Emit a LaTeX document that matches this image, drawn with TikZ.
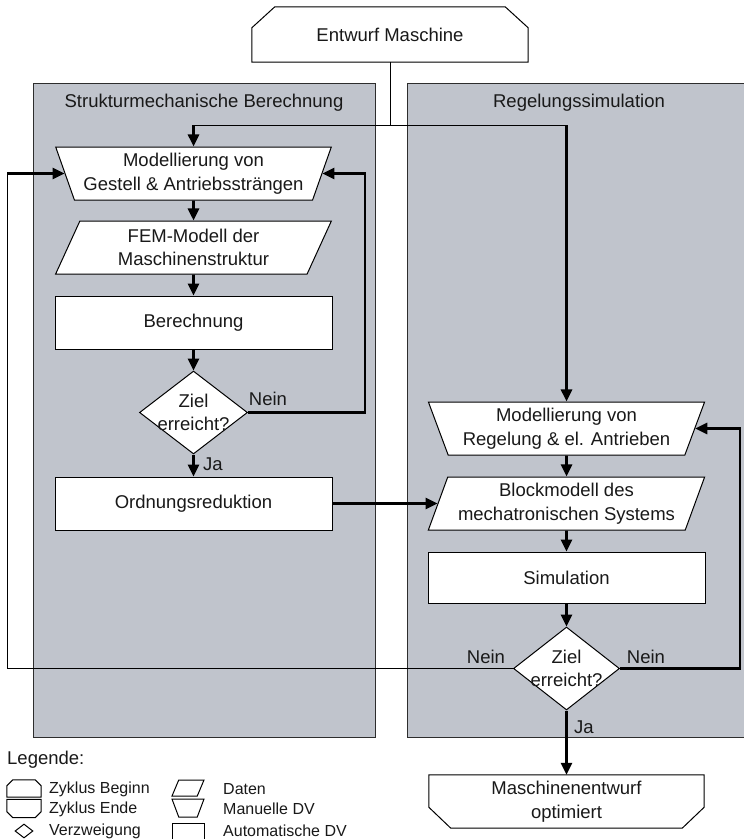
\documentclass[tikz,border=0pt]{standalone}
\usepackage{fontspec}
\setmainfont{Liberation Sans}
\usetikzlibrary{shapes.geometric,arrows.meta}
\definecolor{panelgray}{RGB}{192,196,204}
\definecolor{panelline}{RGB}{45,45,45}
\definecolor{txt}{RGB}{25,25,25}
\tikzset{
  mainfont/.style={font=\fontsize{18.5}{23.5}\selectfont, text=txt},
  legfont/.style={font=\fontsize{16}{19}\selectfont, text=txt},
  panel/.style={fill=panelgray, draw=panelline, line width=1pt},
  shapeline/.style={draw=black, fill=white, line width=1pt},
  box/.style={rectangle, shapeline, inner sep=0pt, align=center, mainfont},
  manual/.style={trapezium, shape border rotate=180, trapezium angle=67,
     trapezium stretches=true, shapeline, inner sep=0pt, align=center, mainfont},
  data/.style={trapezium, trapezium left angle=66.5, trapezium right angle=113.5,
     trapezium stretches=true, shapeline, inner sep=0pt, align=center, mainfont},
  decision/.style={diamond, shapeline, inner sep=0pt},
  termtop/.style 2 args={rectangle, inner sep=0pt, align=center,
     append after command={\pgfextra{\filldraw[line width=1pt, draw=black, fill=white]
       ([yshift=-#2]\tikzlastnode.north west) -- ([xshift=#1]\tikzlastnode.north west)
       -- ([xshift=-#1]\tikzlastnode.north east) -- ([yshift=-#2]\tikzlastnode.north east)
       -- (\tikzlastnode.south east) -- (\tikzlastnode.south west) -- cycle;}}},
  termbot/.style 2 args={rectangle, inner sep=0pt, align=center,
     append after command={\pgfextra{\filldraw[line width=1pt, draw=black, fill=white]
       (\tikzlastnode.north west) -- (\tikzlastnode.north east)
       -- ([yshift=#2]\tikzlastnode.south east) -- ([xshift=-#1]\tikzlastnode.south east)
       -- ([xshift=#1]\tikzlastnode.south west) -- ([yshift=#2]\tikzlastnode.south west)
       -- cycle;}}},
  flow/.style={line width=2.6pt, black, -{Triangle[length=12pt,width=11pt]}},
  thinline/.style={line width=1pt, black},
  lbl/.style={mainfont, inner sep=0pt},
}
\begin{document}
\begin{tikzpicture}[x=1pt, y=-1pt]
\useasboundingbox (0,0) rectangle (744,839);
% panels
\draw[panel] (33,83) rectangle (375,737);
\draw[panel] (407,83) rectangle (751,737);
\node[lbl] (t1) at (204,103) {Strukturmechanische Berechnung};
\node[lbl] (t2) at (579,103) {Regelungssimulation};

% start
\node[termtop={23pt}{21pt}, mainfont, minimum width=276pt, minimum height=55pt] (start) at (390,34.5) {Entwurf Maschine};

% left column
\node[manual, minimum width=276pt, minimum height=53pt] (m1) at (193.5,173.5) {Modellierung von\\Gestell \& Antriebssträngen};
\node[data, minimum width=276pt, minimum height=53pt] (p1) at (193.5,247.5) {FEM-Modell der\\Maschinenstruktur};
\node[box, minimum width=277pt, minimum height=53pt] (ber) at (193.5,322.5) {Berechnung};
\node[decision, minimum width=108pt, minimum height=83pt] (d1) at (193.5,412.5) {};
\node[mainfont, align=center, inner sep=0pt] (d1t) at (d1.center) {Ziel\\erreicht?};
\node[box, minimum width=277pt, minimum height=53pt] (ord) at (193.5,503.5) {Ordnungsreduktion};

% right column
\node[manual, minimum width=277pt, minimum height=53pt] (m2) at (566.5,428.5) {Modellierung von\\Regelung \& el. Antrieben};
\node[data, minimum width=277pt, minimum height=53pt] (bm) at (566.5,503.5) {Blockmodell des\\mechatronischen Systems};
\node[box, minimum width=277pt, minimum height=51pt] (sim) at (566.5,577.5) {Simulation};
\node[decision, minimum width=106pt, minimum height=83pt] (d2) at (566.5,668.5) {};
\node[mainfont, align=center, inner sep=0pt] (d2t) at (d2.center) {Ziel\\erreicht?};
\node[termbot={22pt}{21pt}, mainfont, minimum width=275pt, minimum height=53pt] (fin) at (566.5,801.5) {Maschinenentwurf\\optimiert};

% connectors
\coordinate (split) at (390,125);
\coordinate (rl) at (365,0);
\coordinate (rr) at (740,0);
\coordinate (ll) at (7,0);
\draw[thinline] (start.south) -- (split);
\draw[thinline] (m1.north |- split) -- (m2.north |- split);
\draw[flow] (m1.north |- split) -- (m1.north);
\draw[flow] (m2.north |- split) -- (m2.north);
\draw[flow] (m1.south) -- (p1.north);
\draw[flow] (p1.south) -- (ber.north);
\draw[flow] (ber.south) -- (d1.north);
\draw[flow] (d1.south) -- (ord.north);
\draw[flow] (d1.east) -- (d1.east -| rl) -- (rl |- m1.east) -- (m1.east);
\draw[flow] (ord.east) -- (bm.west);
\draw[flow] (m2.south) -- (bm.north);
\draw[flow] (bm.south) -- (sim.north);
\draw[flow] (sim.south) -- (d2.north);
\draw[flow] (d2.south) -- (fin.north);
\draw[flow] (d2.east) -- (d2.east -| rr) -- (rr |- m2.east) -- (m2.east);
\draw[thinline] (d2.west) -- (d2.west -| ll) -- (ll |- m1.west);
\draw[flow] (ll |- m1.west) -- (m1.west);

% labels
\node[lbl] (n1) at (268,399) {Nein};
\node[lbl] (j1) at (213,464) {Ja};
\node[lbl] (n2) at (486,657) {Nein};
\node[lbl] (n3) at (646,657) {Nein};
\node[lbl] (j2) at (584,727) {Ja};

% legend
\node[lbl, anchor=west] (leg) at (7,760) {Legende:};
\node[termtop={6pt}{6pt}, minimum width=34pt, minimum height=17pt] (lzb) at (24,788.5) {};
\node[legfont, anchor=west, inner sep=0pt] (lzbt) at (49,789) {Zyklus Beginn};
\node[termbot={6pt}{6pt}, minimum width=34pt, minimum height=18pt] (lze) at (24,808.5) {};
\node[legfont, anchor=west, inner sep=0pt] (lzet) at (49,809) {Zyklus Ende};
\node[decision, minimum width=18pt, minimum height=14pt] (lvz) at (24,831) {};
\node[legfont, anchor=west, inner sep=0pt] (lvzt) at (49,831) {Verzweigung};
\node[trapezium, trapezium left angle=70, trapezium right angle=110, trapezium stretches=true, shapeline, inner sep=1pt, minimum width=32pt, minimum height=16pt] (ldat) at (188,788) {};
\node[legfont, anchor=west, inner sep=0pt] (ldatt) at (223,789) {Daten};
\node[trapezium, shape border rotate=180, trapezium angle=70, trapezium stretches=true, shapeline, inner sep=1pt, minimum width=32pt, minimum height=18pt] (lman) at (188,808) {};
\node[legfont, anchor=west, inner sep=0pt] (lmant) at (223,809) {Manuelle DV};
\node[rectangle, shapeline, inner sep=0pt, minimum width=32pt, minimum height=18pt] (laut) at (188,832) {};
\node[legfont, anchor=west, inner sep=0pt] (lautt) at (223,831) {Automatische DV};
\end{tikzpicture}
\end{document}
